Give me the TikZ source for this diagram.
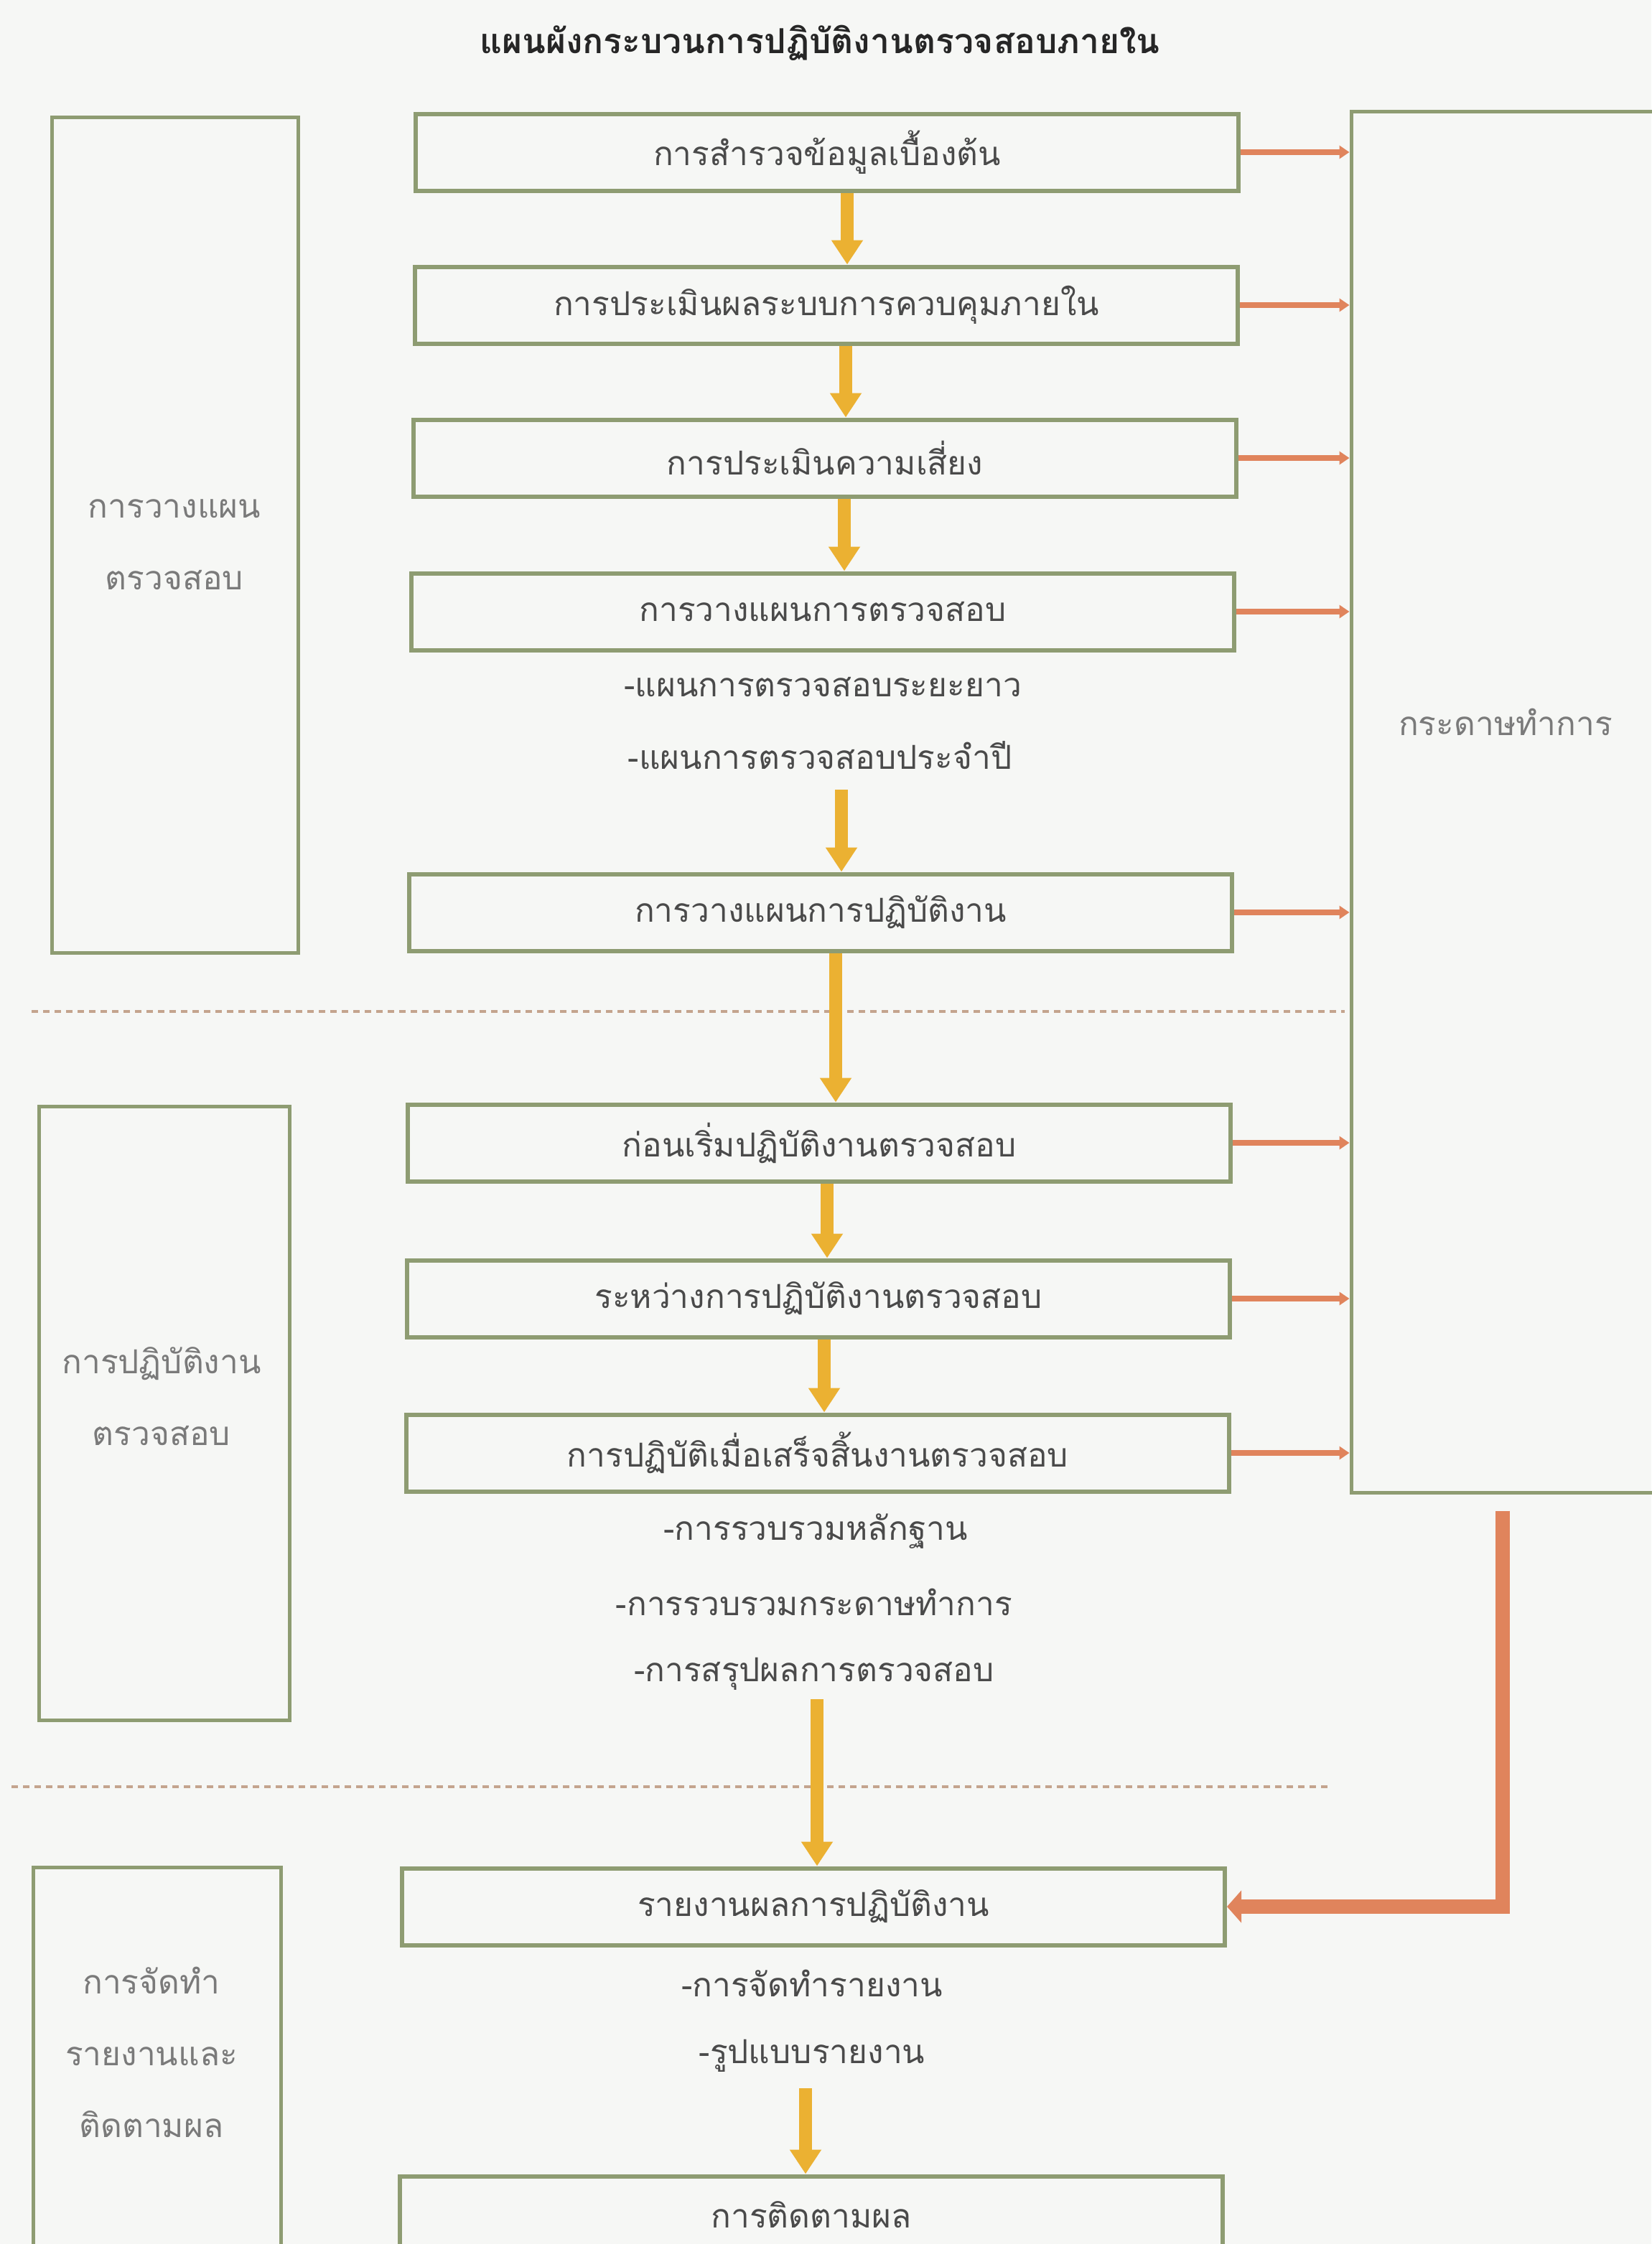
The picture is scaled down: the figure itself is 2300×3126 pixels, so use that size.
\documentclass[tikz,border=0pt]{standalone}
\usepackage{fontspec}
\newfontfamily\thai[Script=Thai]{Loma}
\usetikzlibrary{arrows.meta,calc}
\definecolor{bg}{HTML}{F6F7F5}
\definecolor{boxgreen}{HTML}{8E9C72}
\definecolor{ygold}{HTML}{EBB132}
\definecolor{orng}{HTML}{E0845C}
\definecolor{dashc}{HTML}{C4A48E}
\definecolor{txt}{HTML}{4A4A4A}
\definecolor{ltxt}{HTML}{7A7A7A}
\begin{document}
\begin{tikzpicture}[x=1pt,y=-1pt,
 mainbox/.style={draw=boxgreen,line width=6pt,minimum width=1146pt,minimum height=107pt,inner sep=0pt,font=\thai\fontsize{46}{55}\selectfont,text=txt},
 sidebox/.style={draw=boxgreen,line width=5pt,inner sep=0pt},
 subtxt/.style={font=\thai\fontsize{46}{55}\selectfont,text=txt,inner sep=0pt},
 sidetxt/.style={font=\thai\fontsize{46}{100}\selectfont,text=ltxt,inner sep=0pt,align=center},
 yarrow/.style={draw=ygold,line width=18pt,-{Triangle[width=42pt,length=34pt]}},
 osmall/.style={draw=orng,line width=8pt,-{Triangle[width=18pt,length=14pt]}},
 obig/.style={draw=orng,line width=20pt,-{Triangle[width=44pt,length=20pt]}},
 sepline/.style={draw=dashc,line width=4pt,dash pattern=on 9pt off 7pt}]
\fill[bg] (0,0) rectangle (2300,3126);
\useasboundingbox (0,0) rectangle (2300,3126);

% title
\node[font=\thai\bfseries\fontsize{48}{58}\selectfont,text=black!85,inner sep=0pt] (title) at (1142,60) {แผนผังกระบวนการปฏิบัติงานตรวจสอบภายใน};

% separators
\draw[sepline] (44,1409) -- (1873,1409);
\draw[sepline] (16,2489) -- (1853,2489);

% main boxes
\node[mainbox] (b1) at (1152,212) {การสำรวจข้อมูลเบื้องต้น};
\node[mainbox] (b2) at (1151,425) {การประเมินผลระบบการควบคุมภายใน};
\node[mainbox] (b3) at (1149,638) {การประเมินความเสี่ยง};
\node[mainbox] (b4) at (1146,852) {การวางแผนการตรวจสอบ};
\node[subtxt] (s4a) at (1146,957) {-แผนการตรวจสอบระยะยาว};
\node[subtxt] (s4b) at (1142,1052) {-แผนการตรวจสอบประจำปี};
\node[mainbox] (b5) at (1143,1271) {การวางแผนการปฏิบัติงาน};
\node[mainbox] (b6) at (1141,1592) {ก่อนเริ่มปฏิบัติงานตรวจสอบ};
\node[mainbox] (b7) at (1140,1809) {ระหว่างการปฏิบัติงานตรวจสอบ};
\node[mainbox] (b8) at (1139,2024) {การปฏิบัติเมื่อเสร็จสิ้นงานตรวจสอบ};
\node[subtxt] (s8a) at (1136,2133) {-การรวบรวมหลักฐาน};
\node[subtxt] (s8b) at (1134,2232) {-การรวบรวมกระดาษทำการ};
\node[subtxt] (s8c) at (1134,2332) {-การสรุปผลการตรวจสอบ};
\node[mainbox] (b9) at (1133,2656) {รายงานผลการปฏิบัติงาน};
\node[subtxt] (s9a) at (1131,2763) {-การจัดทำรายงาน};
\node[subtxt] (s9b) at (1131,2864) {-รูปแบบรายงาน};
\node[mainbox] (b10) at (1130,3085) {การติดตามผล};

% side boxes
\node[sidebox,minimum width=343pt,minimum height=1164pt] (l1) at (243.5,745) {};
\node[sidetxt] (l1t) at (243,759) {การวางแผน\\ตรวจสอบ};
\node[sidebox,minimum width=349pt,minimum height=855pt] (l2) at (228.5,1968.5) {};
\node[sidetxt] (l2t) at (225,1945) {การปฏิบัติงาน\\ตรวจสอบ};
\node[sidebox,minimum width=345pt,minimum height=698pt] (l3) at (218.5,2950) {};
\node[sidetxt] (l3t) at (211,2859) {การจัดทำ\\รายงานและ\\ติดตามผล};

\node[sidebox,minimum width=430pt,minimum height=1924pt] (rbox) at (2097,1117) {};
\node[sidetxt] (rt) at (2097,1006) {กระดาษทำการ};

% yellow flow arrows
\draw[yarrow] ([xshift=28pt]b1.south) -- ([xshift=29pt]b2.north);
\draw[yarrow] ([xshift=27pt]b2.south) -- ([xshift=29pt]b3.north);
\draw[yarrow] ([xshift=27pt]b3.south) -- ([xshift=30pt]b4.north);
\draw[yarrow] ($(s4b.center)+(30,48)$) -- ([xshift=29pt]b5.north);
\draw[yarrow] ([xshift=21pt]b5.south) -- ([xshift=23pt]b6.north);
\draw[yarrow] ([xshift=11pt]b6.south) -- ([xshift=12pt]b7.north);
\draw[yarrow] ([xshift=8pt]b7.south) -- ([xshift=9pt]b8.north);
\draw[yarrow] ($(s8c.center)+(4,35)$) -- ([xshift=5pt]b9.north);
\draw[yarrow] ($(s9b.center)+(-9,45)$) -- ([xshift=-8pt]b10.north);

% orange arrows to working papers
\foreach \b in {b1,b2,b3,b4,b5,b6,b7,b8}
  \draw[osmall] (\b.east) -- (\b.east -| rbox.west);
\draw[obig] ([xshift=-4pt,yshift=-23pt]rbox.south) |- (b9.east);
\end{tikzpicture}
\end{document}
